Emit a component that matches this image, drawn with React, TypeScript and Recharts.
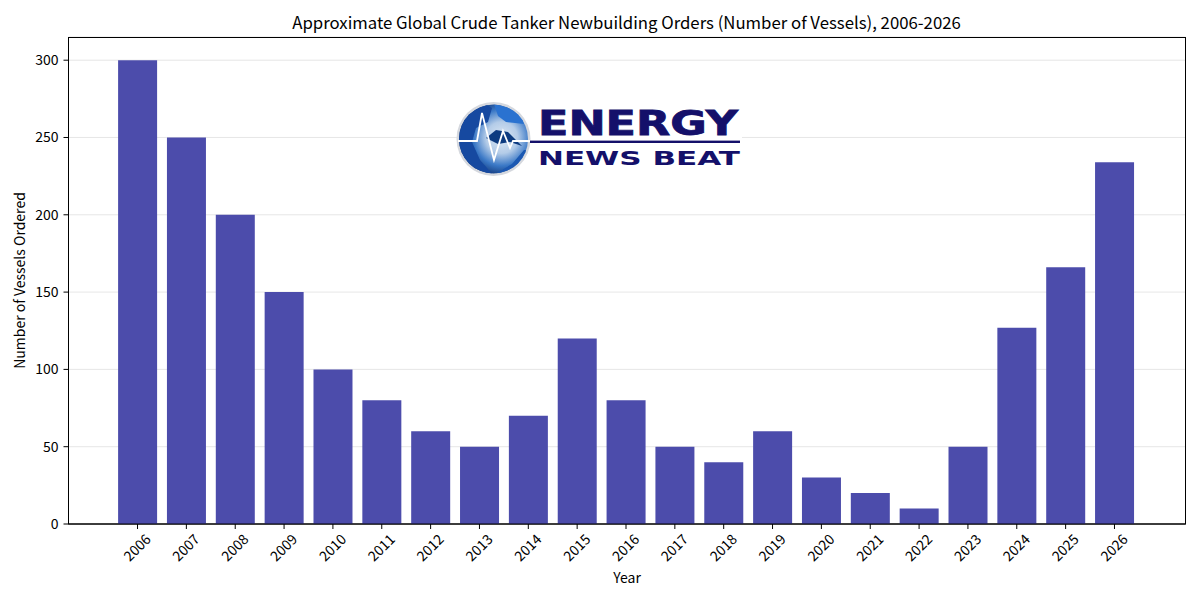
import { BarChart, Bar, XAxis, YAxis, CartesianGrid } from "recharts";

const YEARS = [
  "2006", "2007", "2008", "2009", "2010", "2011", "2012", "2013", "2014", "2015", "2016",
  "2017", "2018", "2019", "2020", "2021", "2022", "2023", "2024", "2025", "2026",
];
const VESSELS = [300, 250, 200, 150, 100, 80, 60, 50, 70, 120, 80, 50, 40, 60, 30, 20, 10, 50, 127, 166, 234];
const Y_TICKS = [0, 50, 100, 150, 200, 250, 300];

const FONT = '"Noto Sans CJK SC", "Noto Sans", sans-serif';
const LOGO_FONT = '"DejaVu Sans", sans-serif';
const LOGO_NAVY = "#14106a";
const data = YEARS.map((year, i) => ({ year, vessels: VESSELS[i] }));

function YearTick({ x, y, payload }: { x?: number; y?: number; payload?: { value: string } }) {
  const cx = Number(x) - 1;
  const cy = Number(y) + 16;
  return (
    <text
      x={cx}
      y={cy}
      fontSize={14}
      fontFamily={FONT}
      fill="#000"
      textAnchor="middle"
      dominantBaseline="central"
      transform={`rotate(-45 ${cx} ${cy})`}
    >
      {payload?.value}
    </text>
  );
}

function Logo() {
  return (
    <svg
      width={1200}
      height={600}
      style={{ position: "absolute", left: 0, top: 0, pointerEvents: "none" }}
    >
      <defs>
        <radialGradient id="globe" cx="62%" cy="48%" r="60%">
          <stop offset="0%" stopColor="#dde8f4" />
          <stop offset="38%" stopColor="#b4cce8" />
          <stop offset="68%" stopColor="#3a78c6" />
          <stop offset="100%" stopColor="#0a2a68" />
        </radialGradient>
        <clipPath id="globeClip">
          <circle cx={493.5} cy={139} r={34.5} />
        </clipPath>
        <filter id="soft">
          <feGaussianBlur stdDeviation={0.6} />
        </filter>
      </defs>
      <rect x={530} y={105} width={212} height={64} fill="#fff" />
      <circle cx={493.5} cy={139} r={37} fill="#d5d8de" />
      <circle cx={493.5} cy={139} r={34.5} fill="url(#globe)" />
      <g clipPath="url(#globeClip)">
        <g filter="url(#soft)">
          <path d="M456 112 L482 102 L492 108 L488 122 L476 128 L472 142 L480 160 L494 176 L460 178 Z" fill="#1549a0" />
          <path d="M494 104 L520 110 L524 124 L506 122 L498 116 Z" fill="#2a72d0" />
          <path d="M486 138 L496 130 L508 132 L522 146 L510 142 L498 144 Z" fill="#0f3a80" />
          <path d="M492 176 L512 164 L524 150 L532 150 L532 178 Z" fill="#1a58b2" />
        </g>
      </g>
      <polyline
        points="458,141 477,141 482,113 494,160 503,131 510,148 513,141 530,141"
        fill="none"
        stroke="#fff"
        strokeWidth={1.8}
      />
      <rect x={530} y={140.6} width={210} height={2.4} fill={LOGO_NAVY} />
      <text
        x={538}
        y={134.5}
        textLength={200}
        lengthAdjust="spacingAndGlyphs"
        fontSize={34}
        fontWeight={700}
        fontFamily={LOGO_FONT}
        stroke={LOGO_NAVY}
        strokeWidth={0.8}
        fill={LOGO_NAVY}
      >
        ENERGY
      </text>
      <text
        x={538}
        y={165}
        textLength={202}
        lengthAdjust="spacingAndGlyphs"
        fontSize={19}
        fontWeight={700}
        fontFamily={LOGO_FONT}
        fill={LOGO_NAVY}
      >
        NEWS BEAT
      </text>
    </svg>
  );
}

export default function App() {
  return (
    <div style={{ position: "absolute", left: 0, top: 0, width: 1200, height: 600, background: "#fff", fontFamily: FONT }}>
      <BarChart
        width={1200}
        height={600}
        data={data}
        barSize={39}
        margin={{ top: 37, right: 14.5, bottom: 0, left: 0 }}
      >
        <XAxis
          dataKey="year"
          height={76}
          interval={0}
          padding={{ left: 44.6, right: 46.6 }}
          tick={<YearTick />}
          tickSize={5}
          tickLine={{ stroke: "#000" }}
          axisLine={{ stroke: "#000" }}
          label={{ value: "Year", position: "insideBottom", offset: 17, fontSize: 14, fill: "#000", fontFamily: FONT }}
        />
        <YAxis
          width={68.5}
          domain={[0, 315]}
          ticks={Y_TICKS}
          tickSize={5}
          tickMargin={5}
          tick={{ fontSize: 14, fill: "#000", fontFamily: FONT }}
          tickLine={{ stroke: "#000" }}
          axisLine={{ stroke: "#000" }}
          label={{
            value: "Number of Vessels Ordered",
            angle: -90,
            position: "insideLeft",
            offset: 20,
            style: { textAnchor: "middle", fontSize: 14, fill: "#000", fontFamily: FONT },
          }}
        />
        <Bar dataKey="vessels" fill="#4c4cab" isAnimationActive={false} />
        <CartesianGrid stroke="#b6b6b6" strokeOpacity={0.34} vertical={false} />
        <rect x={68.5} y={37.5} width={1117} height={486.5} fill="none" stroke="#000" />
        <text x={626.5} y={22} textAnchor="middle" dominantBaseline="central" fontSize={16.75} fontFamily={FONT} fill="#000">
          Approximate Global Crude Tanker Newbuilding Orders (Number of Vessels), 2006-2026
        </text>
      </BarChart>
      <Logo />
    </div>
  );
}
